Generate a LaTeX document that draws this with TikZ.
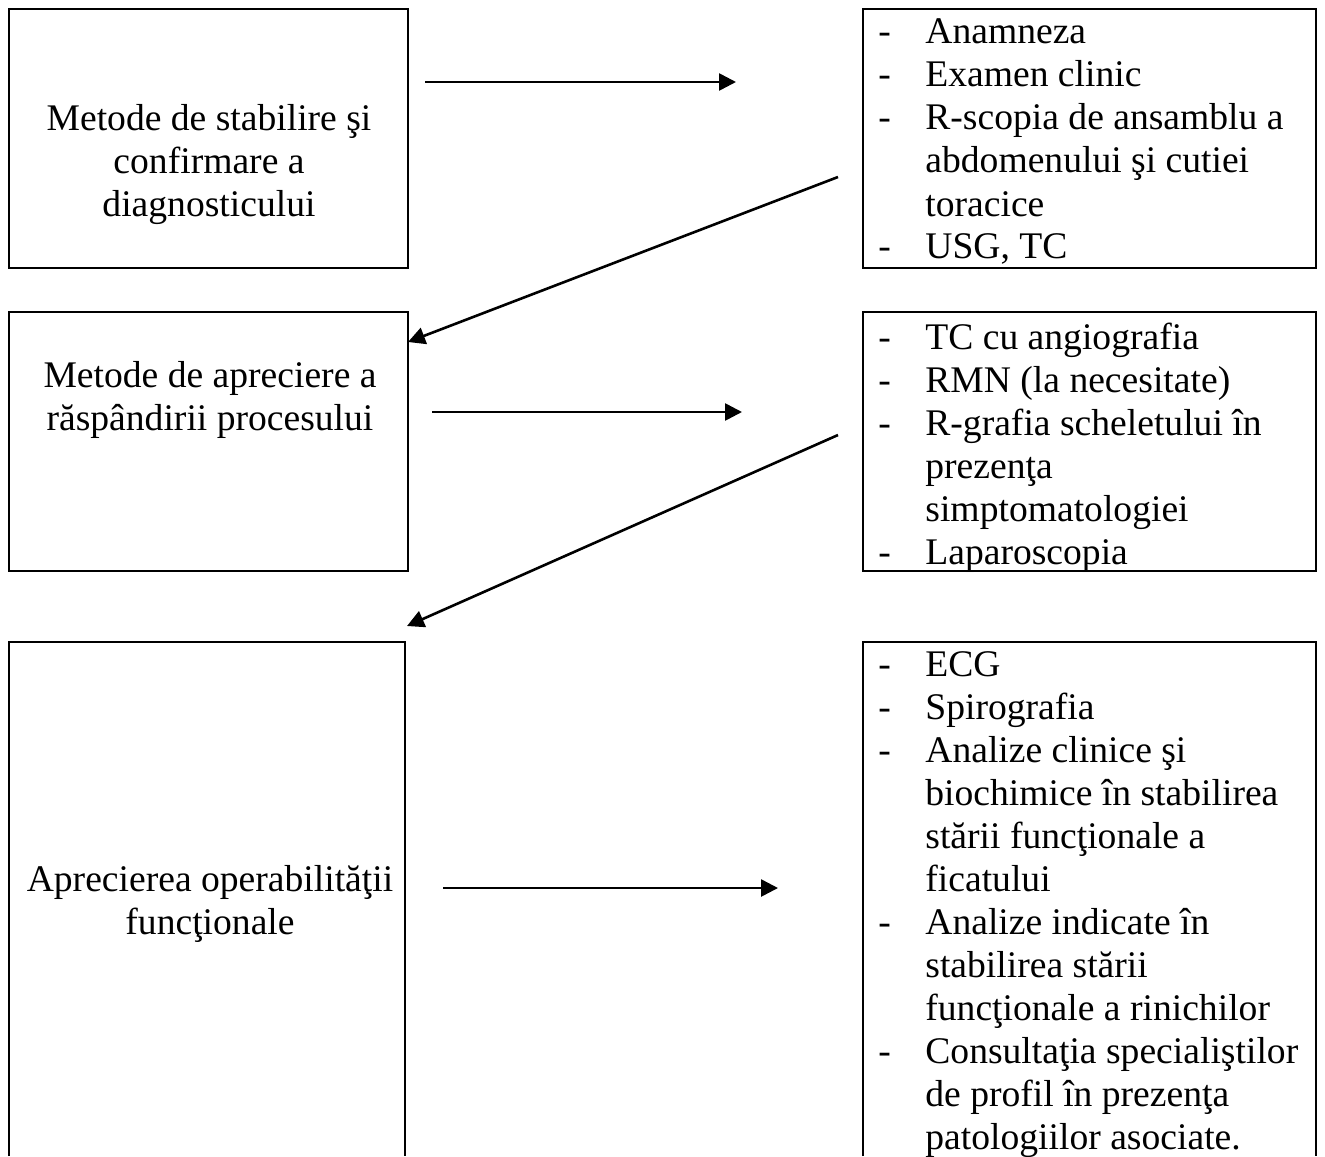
\documentclass[tikz,border=0pt]{standalone}
\usepackage{fontspec}
\setmainfont{Liberation Serif}
\usetikzlibrary{arrows.meta}

\tikzset{
  frame/.style={anchor=north west, inner sep=0pt, outer sep=0pt, line width=1pt},
  arr/.style={line width=1.3pt, -{Triangle[length=8.5pt,width=8.5pt]}},
  txt/.style={align=center, inner sep=0pt, font=\fontsize{18.8}{21.5}\selectfont},
  lst/.style={anchor=base west, inner sep=0pt, font=\fontsize{18.8}{21.5}\selectfont},
}
\newcommand{\dashitem}{\makebox[23.5pt][l]{-}}

\begin{document}
\begin{tikzpicture}[x=0.5pt, y=-0.5pt]
\useasboundingbox (0,0) rectangle (1325,1156);

% boxes
\node[frame, draw, minimum width=199.5pt, minimum height=129.5pt] (lbox1) at (9,9) {};
\node[frame, draw, minimum width=226.5pt, minimum height=129.5pt] (rbox1) at (863,9) {};
\node[frame, draw, minimum width=199.5pt, minimum height=129.5pt] (lbox2) at (9,312) {};
\node[frame, draw, minimum width=226.5pt, minimum height=129.5pt] (rbox2) at (863,312) {};
\node[frame, minimum width=198pt, minimum height=257pt] (lbox3) at (9,642) {};
\node[frame, minimum width=226.5pt, minimum height=257pt] (rbox3) at (863,642) {};
\draw[line width=1pt] (lbox3.south west) -- (lbox3.north west) -- (lbox3.north east) -- (lbox3.south east);
\draw[line width=1pt] (rbox3.south west) -- (rbox3.north west) -- (rbox3.north east) -- (rbox3.south east);

% left texts (base = last line)
\node[txt, anchor=base] (met1) at (209,216) {Metode de stabilire şi\\confirmare a\\diagnosticului};
\node[txt, anchor=base] (met2) at (210,430) {Metode de apreciere a\\răspândirii procesului};
\node[txt, anchor=base] (met3) at (210,934) {Aprecierea operabilităţii\\funcţionale};

% right lists
\node[lst] (list1) at (878,44) {\begin{tabular}[t]{@{}l@{}}
\dashitem Anamneza\\
\dashitem Examen clinic\\
\dashitem R-scopia de ansamblu a\\
\hphantom{\dashitem}abdomenului şi cutiei\\
\hphantom{\dashitem}toracice\\
\dashitem USG, TC
\end{tabular}};
\node[lst] (list2) at (878,349) {\begin{tabular}[t]{@{}l@{}}
\dashitem TC cu angiografia\\
\dashitem RMN (la necesitate)\\
\dashitem R-grafia scheletului în\\
\hphantom{\dashitem}prezenţa\\
\hphantom{\dashitem}simptomatologiei\\
\dashitem Laparoscopia
\end{tabular}};
\node[lst] (list3) at (878,676) {\begin{tabular}[t]{@{}l@{}}
\dashitem ECG\\
\dashitem Spirografia\\
\dashitem Analize clinice şi\\
\hphantom{\dashitem}biochimice în stabilirea\\
\hphantom{\dashitem}stării funcţionale a\\
\hphantom{\dashitem}ficatului\\
\dashitem Analize indicate în\\
\hphantom{\dashitem}stabilirea stării\\
\hphantom{\dashitem}funcţionale a rinichilor\\
\dashitem Consultaţia specialiştilor\\
\hphantom{\dashitem}de profil în prezenţa\\
\hphantom{\dashitem}patologiilor asociate.
\end{tabular}};

% arrows
\coordinate (a1s) at (425,82);
\coordinate (a1e) at (736,82);
\coordinate (a2s) at (838,177);
\coordinate (a2e) at (408,342);
\coordinate (a3s) at (432,412);
\coordinate (a3e) at (742,412);
\coordinate (a4s) at (838,435);
\coordinate (a4e) at (407,626);
\coordinate (a5s) at (443,888);
\coordinate (a5e) at (778,888);
\draw[arr] (a1s) -- (a1e);
\draw[arr] (a2s) -- (a2e);
\draw[arr] (a3s) -- (a3e);
\draw[arr] (a4s) -- (a4e);
\draw[arr] (a5s) -- (a5e);
\end{tikzpicture}
\end{document}
